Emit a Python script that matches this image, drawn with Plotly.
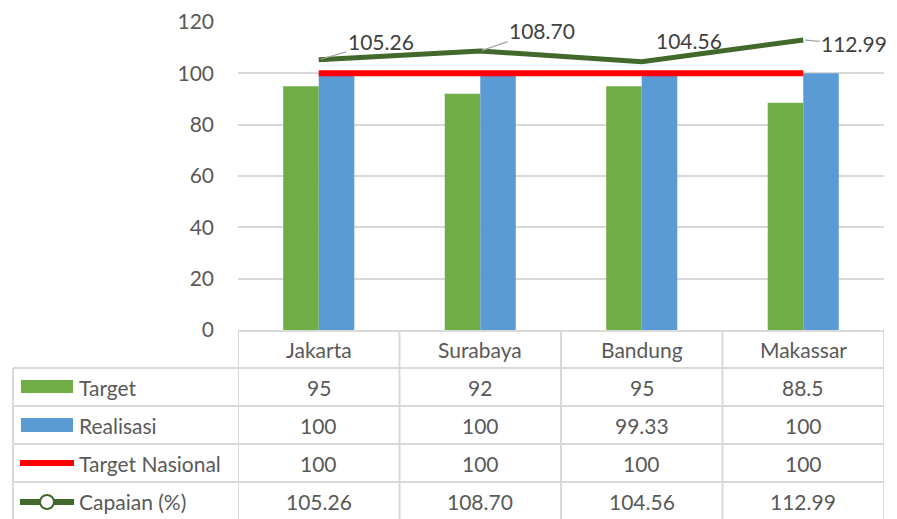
import plotly.graph_objects as go

categories = ['Jakarta', 'Surabaya', 'Bandung', 'Makassar']
target = [95, 92, 95, 88.5]
realisasi = [100, 100, 99.33, 100]
target_nasional = [100, 100, 100, 100]
capaian = [105.26, 108.70, 104.56, 112.99]

row_names = ['Target', 'Realisasi', 'Target Nasional', 'Capaian (%)']
row_text = [
    [f'{v:g}' for v in target],
    [f'{v:g}' for v in realisasi],
    [f'{v:g}' for v in target_nasional],
    [f'{v:.2f}' for v in capaian],
]

FONT = 'Lato'
TXT = '#595959'
GRID = '#D9D9D9'
GREEN = '#70AD47'
BLUE = '#5B9BD5'
RED = '#FF0000'
DKGREEN = '#43682B'
FS = 21

W, H = 897, 519
OFF = 8  # page body margin, figure is drawn 8px right/down
# plot area in page pixels: x 238..884, y 22..330
L, R = 238 - OFF, W - (884 - OFF)
T, B = 22 - OFF, H - (330 - OFF)
PH = H - T - B
PW = W - L - R


def py(p):
    # page pixel row -> paper y
    return (H - B - (p - OFF)) / PH


def px(p):
    return (p - OFF - L) / PW


fig = go.Figure()

fig.add_bar(x=categories, y=target, name='Target', marker=dict(color=GREEN, line_width=0))
fig.add_bar(x=categories, y=realisasi, name='Realisasi', marker=dict(color=BLUE, line_width=0))
fig.add_scatter(x=categories, y=target_nasional, name='Target Nasional', mode='lines',
                line=dict(color=RED, width=6))
fig.add_scatter(x=categories, y=capaian, name='Capaian (%)', mode='lines',
                line=dict(color=DKGREEN, width=5))

# data labels for capaian
label_off = [(62, -18), (62, -21), (47, -21), (51, 4)]
label_arrow = [True, True, False, True]
for c, v, (dx, dy), arr in zip(categories, capaian, label_off, label_arrow):
    if arr:
        fig.add_annotation(x=c, y=v, text=f'{v:.2f}', showarrow=True, arrowhead=0,
                           arrowwidth=1.2, arrowcolor='#A6A6A6', ax=dx, ay=dy,
                           standoff=2, font=dict(family=FONT, size=FS, color='#404040'))
    else:
        fig.add_annotation(x=c, y=v, text=f'{v:.2f}', showarrow=False,
                           xshift=dx, yshift=-dy, font=dict(family=FONT, size=FS, color='#404040'))

# table: header row with category names
row_centers = [349, 387, 425, 463, 501]
for c in categories:
    fig.add_annotation(x=c, y=py(row_centers[0]), xref='x', yref='paper', text=c,
                       yanchor='middle', showarrow=False,
                       font=dict(family=FONT, size=FS, color=TXT))

for ri, (name, vals) in enumerate(zip(row_names, row_text)):
    yc = py(row_centers[ri + 1])
    fig.add_annotation(x=px(77), y=yc, xref='paper', yref='paper', text=name,
                       xanchor='left', yanchor='middle', showarrow=False,
                       font=dict(family=FONT, size=FS, color=TXT))
    for c, t in zip(categories, vals):
        fig.add_annotation(x=c, y=yc, xref='x', yref='paper', text=t,
                           yanchor='middle', showarrow=False,
                           font=dict(family=FONT, size=FS, color=TXT))

shapes = []
# horizontal table lines
for p in [368, 406, 444, 482]:
    shapes.append(dict(type='line', xref='paper', yref='paper', x0=px(13), x1=1,
                       y0=py(p), y1=py(p), line=dict(color=GRID, width=2)))
# vertical table lines
shapes.append(dict(type='line', xref='paper', yref='paper', x0=px(13), x1=px(13),
                   y0=py(368), y1=py(H + 10), line=dict(color=GRID, width=2)))
for i in range(len(categories) + 1):
    shapes.append(dict(type='line', xref='x', yref='paper', x0=i - 0.5, x1=i - 0.5,
                       y0=0, y1=py(H + 10), line=dict(color=GRID, width=2)))

# legend keys inside the table
shapes.append(dict(type='rect', xref='paper', yref='paper', x0=px(21), x1=px(73),
                   y0=py(380), y1=py(393), fillcolor=GREEN, line_width=0))
shapes.append(dict(type='rect', xref='paper', yref='paper', x0=px(21), x1=px(73),
                   y0=py(418), y1=py(432), fillcolor=BLUE, line_width=0))
shapes.append(dict(type='line', xref='paper', yref='paper', x0=px(20), x1=px(74),
                   y0=py(463), y1=py(463), line=dict(color=RED, width=6)))
shapes.append(dict(type='line', xref='paper', yref='paper', x0=px(20), x1=px(74),
                   y0=py(502), y1=py(502), line=dict(color=DKGREEN, width=6)))
shapes.append(dict(type='circle', xref='paper', yref='paper', x0=px(40), x1=px(54),
                   y0=py(509), y1=py(495), fillcolor='white',
                   line=dict(color=DKGREEN, width=2)))

fig.update_layout(
    width=W, height=H,
    margin=dict(l=L, r=R, t=T, b=B),
    plot_bgcolor='white', paper_bgcolor='white',
    barmode='group', bargap=0.56, bargroupgap=0,
    showlegend=False,
    shapes=shapes,
    font=dict(family=FONT, color=TXT),
)
fig.update_xaxes(range=[-0.5, len(categories) - 0.5], showticklabels=False,
                 showline=True, linecolor=GRID, linewidth=2, ticks='', showgrid=False)
fig.update_yaxes(range=[0, 120], dtick=20, showgrid=True, gridcolor=GRID, gridwidth=1.5,
                 zeroline=False, showline=False, ticks='', automargin=False,
                 tickfont=dict(family=FONT, size=FS, color=TXT), ticklabelstandoff=23)

fig.write_html('out.html')
